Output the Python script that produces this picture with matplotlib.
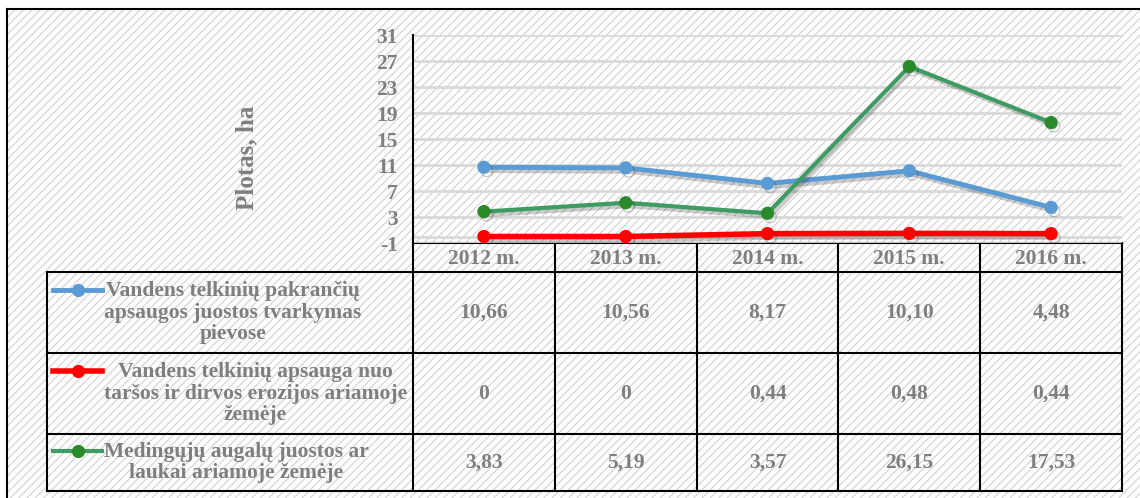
import matplotlib.pyplot as plt
import matplotlib.patheffects as pe
from matplotlib.patches import Rectangle

# data
years = ["2012 m.", "2013 m.", "2014 m.", "2015 m.", "2016 m."]
pakranciu = [10.66, 10.56, 8.17, 10.10, 4.48]
apsauga = [0, 0, 0.44, 0.48, 0.44]
medingieji = [3.83, 5.19, 3.57, 26.15, 17.53]

series_names = [
    "Vandens telkinių pakrančių\napsaugos juostos tvarkymas\npievose",
    "Vandens telkinių apsauga nuo\ntaršos ir dirvos erozijos ariamoje\nžemėje",
    "Medingųjų augalų juostos ar\nlaukai ariamoje žemėje",
]
series_values = [pakranciu, apsauga, medingieji]
line_colors = ["#5B9BD5", "#FF0000", "#3E9B62"]
marker_colors = ["#5B9BD5", "#FF0000", "#2A8A2A"]
line_widths = [3.5, 4.0, 3.0]

yticks = list(range(-1, 32, 4))

plt.rcParams["font.family"] = ["Liberation Serif", "DejaVu Serif"]
plt.rcParams["font.weight"] = "bold"
plt.rcParams["hatch.linewidth"] = 0.7
plt.rcParams["axes.unicode_minus"] = False

GRAY = "#7F7F7F"
FS = 15.5
W, H = 1140, 498

fig = plt.figure(figsize=(W / 100, H / 100), dpi=100)

# background / table layer in pixel coords
bg = fig.add_axes([0, 0, 1, 1], zorder=0)
bg.set_xlim(0, W)
bg.set_ylim(H, 0)
bg.axis("off")

bg.add_patch(
    Rectangle(
        (7, 9),
        W,
        H,
        facecolor="white",
        edgecolor="#CCCCCC",
        hatch="////",
        linewidth=0,
    )
)
bg.plot([7, W], [9, 9], color="black", linewidth=1.5)
bg.plot([7, 7], [9, H], color="black", linewidth=1.5)

# plot area
px_left, px_right = 413, 1122
px_top, px_bottom = 35, 243

ax = fig.add_axes(
    [
        px_left / W,
        1 - px_bottom / H,
        (px_right - px_left) / W,
        (px_bottom - px_top) / H,
    ],
    zorder=2,
)
ax.patch.set_alpha(0)

x = list(range(len(years)))

shadow = [
    pe.SimpleLineShadow(offset=(2, -2.5), shadow_color="black", alpha=0.2),
    pe.Normal(),
]

for vals, lc, mc, lw in zip(series_values, line_colors, marker_colors, line_widths):
    ax.plot(
        x,
        vals,
        color=lc,
        linewidth=lw,
        marker="o",
        markersize=8.5,
        markerfacecolor=mc,
        markeredgecolor=mc,
        path_effects=shadow,
        zorder=3,
    )

ax.set_xlim(-0.5, len(years) - 0.5)
ax.set_ylim(yticks[0], yticks[-1])
ax.set_yticks(yticks)
ax.set_xticks([])
ax.yaxis.grid(True, color="#D9D9D9", linewidth=2)
ax.axhline(0, color="#D9D9D9", linewidth=2, zorder=1)
ax.set_axisbelow(True)

for side in ["top", "right", "bottom"]:
    ax.spines[side].set_visible(False)
ax.spines["left"].set_color("black")
ax.spines["left"].set_linewidth(1.5)

ax.tick_params(axis="y", length=0, pad=11, labelsize=FS, labelcolor=GRAY)
for lbl in ax.get_yticklabels():
    lbl.set_fontweight("bold")

fig.text(
    247 / W,
    1 - 158 / H,
    "Plotas, ha",
    rotation=90,
    ha="center",
    va="center",
    fontsize=18,
    fontweight="bold",
    color=GRAY,
)

# data table
n = len(years)
col_edges = [px_left + (px_right - px_left) * i / n for i in range(n + 1)]
col_centers = [(col_edges[i] + col_edges[i + 1]) / 2 for i in range(n)]
row_edges = [243, 272, 353, 434, 491]
tbl_left = 47

lw_tbl = 1.5
bg.plot([px_left, px_right], [row_edges[0], row_edges[0]], color="black", linewidth=lw_tbl)
for y in row_edges[1:]:
    bg.plot([tbl_left, px_right], [y, y], color="black", linewidth=lw_tbl)
for xe in col_edges:
    bg.plot([xe, xe], [row_edges[0], row_edges[-1]], color="black", linewidth=lw_tbl)
bg.plot([tbl_left, tbl_left], [row_edges[1], row_edges[-1]], color="black", linewidth=lw_tbl)

for xc, yr in zip(col_centers, years):
    bg.text(xc, (row_edges[0] + row_edges[1]) / 2 + 1, yr, ha="center", va="center",
            fontsize=FS, fontweight="bold", color=GRAY)


def fmt(v):
    if v == 0:
        return "0"
    return f"{v:.2f}".replace(".", ",")


line_step = 23
for r, (name, vals) in enumerate(zip(series_names, series_values)):
    yc = (row_edges[r + 1] + row_edges[r + 2]) / 2
    for xc, v in zip(col_centers, vals):
        bg.text(xc, yc, fmt(v), ha="center", va="center",
                fontsize=FS, fontweight="bold", color=GRAY)
    nlines = name.count("\n") + 1
    bg.text(104, yc, name, ha="left", va="center", multialignment="center",
            fontsize=FS, fontweight="bold", color=GRAY, linespacing=1.1)
    y_first = yc - (nlines - 1) / 2 * line_step
    bg.plot(
        [53, 78, 102],
        [y_first, y_first, y_first],
        color=line_colors[r],
        linewidth=line_widths[r],
        marker="o",
        markevery=[1],
        markersize=8.5,
        markerfacecolor=marker_colors[r],
        markeredgecolor=marker_colors[r],
    )

fig.savefig("out.png", dpi=100)
